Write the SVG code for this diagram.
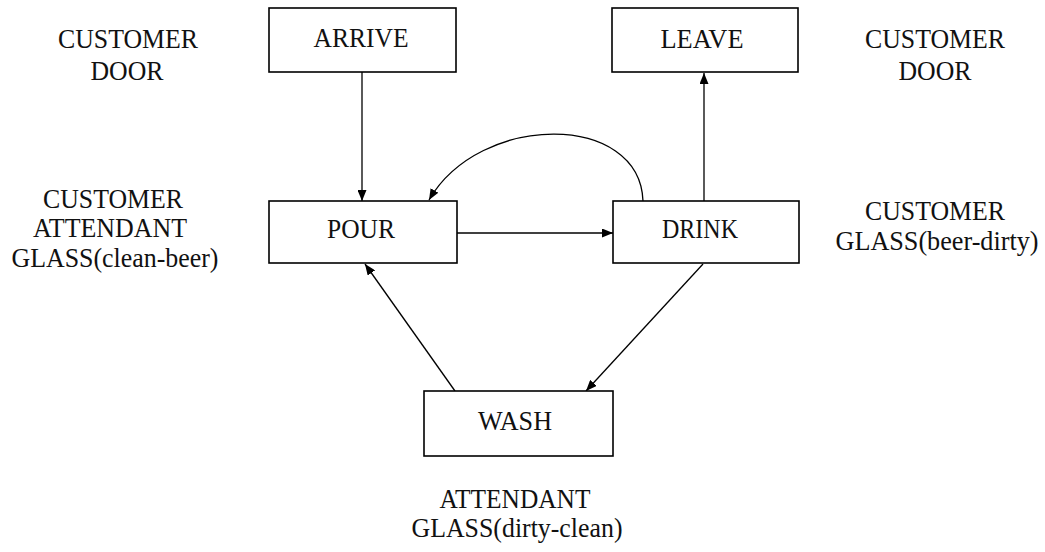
<svg xmlns="http://www.w3.org/2000/svg" width="1045" height="552" viewBox="0 0 1045 552">
  <style>
    .box { fill: #fff; stroke: #000; stroke-width: 1.6; }
    .lbl { font-family: "Liberation Serif", "Times New Roman", serif; font-size: 27px; fill: #111; text-anchor: middle; }
    .edge { fill: none; stroke: #000; stroke-width: 1.3; marker-end: url(#arrow); }
  </style>
  <defs>
    <marker id="arrow" markerUnits="userSpaceOnUse" markerWidth="11" markerHeight="9" viewBox="0 0 11 9" refX="11" refY="4.5" orient="auto">
      <path d="M0,0 L11,4.5 L0,9 Z" fill="#000"/>
    </marker>
  </defs>
  <rect width="1045" height="552" fill="#fff"/>

  <g id="connectors">
    <path class="edge" d="M362,72 L362,201"/>
    <path class="edge" d="M457,233 L613,233"/>
    <path class="edge" d="M704,201 L704,73"/>
    <path class="edge" d="M643,201 C640,112 480,112 429,200"/>
    <path class="edge" d="M703,264 L586,391"/>
    <path class="edge" d="M455,391 L365,264"/>
  </g>

  <g id="arrive">
    <rect class="box" x="269" y="8" width="187" height="64"/>
    <text class="lbl" x="361" y="47" textLength="95" lengthAdjust="spacingAndGlyphs">ARRIVE</text>
  </g>
  <g id="leave">
    <rect class="box" x="612" y="8" width="186" height="64"/>
    <text class="lbl" x="702" y="48" textLength="83" lengthAdjust="spacingAndGlyphs">LEAVE</text>
  </g>
  <g id="pour">
    <rect class="box" x="269" y="201" width="188" height="62"/>
    <text class="lbl" x="361" y="238" textLength="68" lengthAdjust="spacingAndGlyphs">POUR</text>
  </g>
  <g id="drink">
    <rect class="box" x="613" y="201" width="186" height="62"/>
    <text class="lbl" x="700" y="238" textLength="76" lengthAdjust="spacingAndGlyphs">DRINK</text>
  </g>
  <g id="wash">
    <rect class="box" x="424" y="391" width="189" height="65"/>
    <text class="lbl" x="515" y="430" textLength="74" lengthAdjust="spacingAndGlyphs">WASH</text>
  </g>

  <g id="arrive-resources">
    <text class="lbl" x="128" y="48" textLength="140" lengthAdjust="spacingAndGlyphs">CUSTOMER</text>
    <text class="lbl" x="127" y="80" textLength="73" lengthAdjust="spacingAndGlyphs">DOOR</text>
  </g>
  <g id="leave-resources">
    <text class="lbl" x="935" y="48" textLength="140" lengthAdjust="spacingAndGlyphs">CUSTOMER</text>
    <text class="lbl" x="935" y="80" textLength="73" lengthAdjust="spacingAndGlyphs">DOOR</text>
  </g>
  <g id="pour-resources">
    <text class="lbl" x="113" y="208" textLength="140" lengthAdjust="spacingAndGlyphs">CUSTOMER</text>
    <text class="lbl" x="110" y="237" textLength="154" lengthAdjust="spacingAndGlyphs">ATTENDANT</text>
    <text class="lbl" x="115" y="267" textLength="207" lengthAdjust="spacingAndGlyphs">GLASS(clean-beer)</text>
  </g>
  <g id="drink-resources">
    <text class="lbl" x="935" y="220" textLength="140" lengthAdjust="spacingAndGlyphs">CUSTOMER</text>
    <text class="lbl" x="937" y="250" textLength="203" lengthAdjust="spacingAndGlyphs">GLASS(beer-dirty)</text>
  </g>
  <g id="wash-resources">
    <text class="lbl" x="515" y="508" textLength="151" lengthAdjust="spacingAndGlyphs">ATTENDANT</text>
    <text class="lbl" x="517" y="537" textLength="211" lengthAdjust="spacingAndGlyphs">GLASS(dirty-clean)</text>
  </g>
</svg>
